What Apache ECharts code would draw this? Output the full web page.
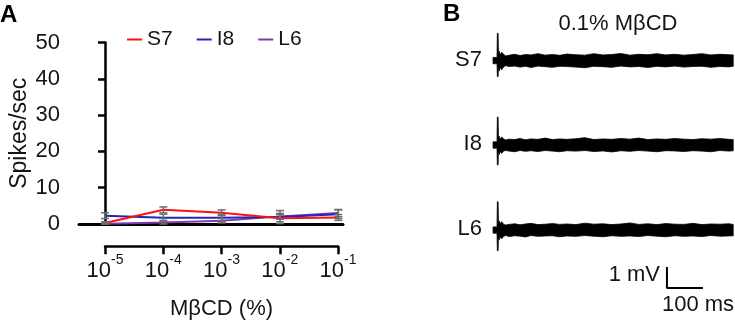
<!DOCTYPE html>
<html>
<head>
<meta charset="utf-8">
<script src="https://cdn.jsdelivr.net/npm/echarts@6/dist/echarts.min.js"></script>
<style>
  html, body { margin: 0; padding: 0; background: #fff; }
  #chart { width: 735px; height: 321px; }
</style>
</head>
<body>
<div id="chart"></div>
<script>
// Panel A: firing rate vs MβCD concentration (10^x %)
const concExponents = ['-5', '-4', '-3', '-2', '-1'];
const seriesNames = ['S7', 'I8', 'L6'];
const seriesColors = ['#ff1010', '#2424b8', '#7a3cb0'];
const s7Rate = [0.3, 3.9, 3.1, 1.6, 1.8];
const i8Rate = [2.3, 1.7, 1.7, 1.9, 2.7];
const l6Rate = [0.1, 0.4, 0.9, 2.1, 3.0];
const s7Err = [0.3, 0.8, 0.8, 1.0, 0.8];
const i8Err = [0.8, 1.0, 1.0, 1.8, 1.2];
const l6Err = [0.2, 0.6, 0.6, 0.8, 1.0];
const yTicks = [0, 10, 20, 30, 40, 50];

// Panel B: recording envelopes (ms, mV relative to each trace baseline)
const traceTime = [0, 10, 11, 12, 14, 15, 17, 20, 24, 29, 35, 45, 60, 75, 90, 105, 125, 145, 165, 185,
  205, 230, 255, 280, 305, 330, 355, 380, 405, 430, 455, 480, 505, 530, 555, 580, 605, 630, 655, 667];
const s7Upper = [0.15, 0.15, 0.1, 1.3, 1.3, 0.3, 0.45, 0.27, 0.4, 0.3, 0.22, 0.26, 0.3, 0.24, 0.29, 0.27, 0.33, 0.26, 0.29, 0.25,
  0.31, 0.28, 0.26, 0.33, 0.27, 0.29, 0.34, 0.26, 0.3, 0.28, 0.33, 0.27, 0.3, 0.26, 0.29, 0.33, 0.27, 0.3, 0.28, 0.27];
const s7Lower = [-0.15, -0.15, -0.1, -0.76, -0.76, -0.3, -0.5, -0.32, -0.44, -0.3, -0.24, -0.28, -0.26, -0.31, -0.27, -0.33, -0.26, -0.29, -0.32, -0.27,
  -0.28, -0.31, -0.34, -0.27, -0.29, -0.32, -0.26, -0.3, -0.28, -0.33, -0.27, -0.3, -0.26, -0.31, -0.28, -0.27, -0.32, -0.28, -0.3, -0.27];
const i8Upper = [0.15, 0.15, 0.1, 1.33, 1.33, 0.3, 0.42, 0.28, 0.38, 0.3, 0.24, 0.28, 0.26, 0.31, 0.25, 0.29, 0.27, 0.33, 0.26, 0.29,
  0.27, 0.3, 0.35, 0.26, 0.29, 0.27, 0.31, 0.28, 0.33, 0.26, 0.29, 0.27, 0.31, 0.28, 0.26, 0.3, 0.28, 0.31, 0.27, 0.26];
const i8Lower = [-0.15, -0.15, -0.1, -0.95, -0.95, -0.3, -0.45, -0.3, -0.4, -0.29, -0.26, -0.29, -0.32, -0.26, -0.3, -0.27, -0.31, -0.26, -0.29, -0.32,
  -0.27, -0.29, -0.26, -0.31, -0.28, -0.33, -0.27, -0.3, -0.26, -0.29, -0.32, -0.27, -0.28, -0.31, -0.27, -0.29, -0.32, -0.26, -0.29, -0.27];
const l6Upper = [0.15, 0.15, 0.1, 1.35, 1.35, 0.32, 0.44, 0.29, 0.4, 0.28, 0.24, 0.27, 0.3, 0.25, 0.29, 0.32, 0.26, 0.28, 0.31, 0.27,
  0.29, 0.26, 0.33, 0.28, 0.3, 0.26, 0.29, 0.34, 0.27, 0.3, 0.26, 0.31, 0.28, 0.27, 0.32, 0.26, 0.29, 0.28, 0.3, 0.27];
const l6Lower = [-0.15, -0.15, -0.1, -0.98, -0.98, -0.32, -0.46, -0.32, -0.42, -0.3, -0.26, -0.31, -0.27, -0.29, -0.33, -0.26, -0.3, -0.28, -0.27, -0.32,
  -0.28, -0.3, -0.26, -0.29, -0.32, -0.27, -0.3, -0.28, -0.31, -0.26, -0.29, -0.32, -0.27, -0.3, -0.28, -0.31, -0.26, -0.29, -0.28, -0.27];
const traceNames = ['S7', 'I8', 'L6'];
const traceBaselines = [12.4, 8.38, 4.33];
const scaleBarTime = [483, 483, 583];
const scaleBarVolt = [2.57, 1.57, 1.57];

const FONT = '"Liberation Sans", Arial, sans-serif';
const TEXT = '#141414';

const traces = [
  { name: traceNames[0], base: traceBaselines[0], upper: s7Upper, lower: s7Lower },
  { name: traceNames[1], base: traceBaselines[1], upper: i8Upper, lower: i8Lower },
  { name: traceNames[2], base: traceBaselines[2], upper: l6Upper, lower: l6Lower },
];

const rates = [s7Rate, i8Rate, l6Rate];
const errs = [s7Err, i8Err, l6Err];

function errorBarSeries(values, errors) {
  return {
    type: 'custom',
    xAxisIndex: 0,
    yAxisIndex: 0,
    z: 5,
    silent: true,
    data: values.map((v, i) => [i, Math.max(v - errors[i], 0), v + errors[i]]),
    renderItem: (params, api) => {
      const lo = api.coord([api.value(0), api.value(1)]);
      const hi = api.coord([api.value(0), api.value(2)]);
      const w = 4;
      const style = { stroke: '#6e6e6e', lineWidth: 1.5 };
      return {
        type: 'group',
        children: [
          { type: 'line', shape: { x1: hi[0], y1: hi[1], x2: lo[0], y2: lo[1] }, style },
          { type: 'line', shape: { x1: hi[0] - w, y1: hi[1], x2: hi[0] + w, y2: hi[1] }, style },
          { type: 'line', shape: { x1: lo[0] - w, y1: lo[1], x2: lo[0] + w, y2: lo[1] }, style },
        ],
      };
    },
  };
}

const chart = echarts.init(document.getElementById('chart'), null, { renderer: 'canvas' });

const option = {
  animation: false,
  backgroundColor: '#fff',
  textStyle: { fontFamily: FONT, color: TEXT },
  legend: {
    data: seriesNames,
    left: 122,
    top: 24,
    icon: 'rect',
    itemWidth: 15,
    itemHeight: 2,
    itemGap: 24,
    textStyle: { fontFamily: FONT, fontSize: 21, color: TEXT },
  },
  grid: [
    { left: 79, right: 392, top: 42.5, bottom: 97 },
    { left: 105, width: 233, top: 246, height: 1 },
    { left: 470, right: 0, top: 0, bottom: 0 },
  ],
  xAxis: [
    {
      type: 'value', gridIndex: 0, min: -0.446, max: 4.08,
      axisLine: { show: true, onZero: false, lineStyle: { color: '#000', width: 3 } },
      axisTick: { show: false }, axisLabel: { show: false }, splitLine: { show: false },
    },
    {
      type: 'value', gridIndex: 1, min: 0, max: 4, interval: 1, position: 'bottom',
      axisLine: { show: true, onZero: false, lineStyle: { color: '#000', width: 2.5 } },
      axisTick: { show: true, inside: false, length: 8, lineStyle: { color: '#000', width: 2.5 } },
      axisLabel: {
        margin: 7,
        formatter: (v) => `{b|10}{s|${concExponents[Math.round(v)]}}`,
        rich: {
          b: { fontFamily: FONT, fontSize: 22, color: TEXT },
          s: { fontFamily: FONT, fontSize: 14, color: TEXT, padding: [0, 0, 22, 0] },
        },
      },
      splitLine: { show: false },
      name: 'MβCD (%)',
      nameLocation: 'middle',
      nameGap: 52,
      nameTextStyle: { fontFamily: FONT, fontSize: 22, color: TEXT },
    },
    {
      type: 'value', gridIndex: 2, min: -64, max: 672, show: false,
    },
  ],
  yAxis: [
    {
      type: 'value', gridIndex: 0, min: 0, max: 50, interval: 10,
      axisLine: { show: true, lineStyle: { color: '#000', width: 2.5 } },
      axisTick: { show: true, inside: false, length: 7, lineStyle: { color: '#000', width: 2.5 } },
      axisLabel: {
        margin: 19, fontFamily: FONT, fontSize: 22, color: TEXT,
        formatter: (v) => (yTicks.includes(v) ? String(v) : ''),
      },
      splitLine: { show: false },
      name: 'Spikes/sec',
      nameLocation: 'middle',
      nameGap: 46,
      nameTextStyle: { fontFamily: FONT, fontSize: 23, color: TEXT },
    },
    { type: 'value', gridIndex: 1, min: 0, max: 1, show: false },
    { type: 'value', gridIndex: 2, min: 0, max: 321 / 21, show: false },
  ],
  series: [
    ...seriesNames.map((name, k) => ({
      name,
      type: 'line',
      xAxisIndex: 0,
      yAxisIndex: 0,
      color: seriesColors[k],
      symbol: 'none',
      z: 3 + (2 - k) * 0.1,
      lineStyle: { color: seriesColors[k], width: 2 },
      data: rates[k].map((v, i) => [i, v]),
    })),
    ...rates.map((r, k) => errorBarSeries(r, errs[k])),
    {
      type: 'custom',
      xAxisIndex: 2,
      yAxisIndex: 2,
      silent: true,
      data: traces.map((t, i) => [i]),
      renderItem: (params, api) => {
        const tr = traces[api.value(0)];
        const pts = [];
        traceTime.forEach((t, k) => pts.push(api.coord([t, tr.base + tr.upper[k]])));
        for (let k = traceTime.length - 1; k >= 0; k--) {
          pts.push(api.coord([traceTime[k], tr.base + tr.lower[k]]));
        }
        const lab = api.coord([-31, tr.base]);
        return {
          type: 'group',
          children: [
            { type: 'polygon', shape: { points: pts }, style: { fill: '#000', stroke: '#000', lineWidth: 0.8 } },
            {
              type: 'text',
              style: {
                text: tr.name, x: lab[0], y: lab[1] - 1, align: 'right', verticalAlign: 'middle',
                font: `22px ${FONT}`, fill: TEXT,
              },
            },
          ],
        };
      },
    },
    {
      type: 'line',
      xAxisIndex: 2,
      yAxisIndex: 2,
      symbol: 'none',
      silent: true,
      lineStyle: { color: '#000', width: 2 },
      data: scaleBarTime.map((t, i) => [t, scaleBarVolt[i]]),
    },
  ],
  graphic: [
    { type: 'text', left: 0, top: 3, style: { text: 'A', font: `bold 24px ${FONT}`, fill: '#000' } },
    { type: 'text', left: 443, top: 2, style: { text: 'B', font: `bold 24px ${FONT}`, fill: '#000' } },
    { type: 'text', x: 618, y: 24, style: { text: '0.1% MβCD', align: 'center', verticalAlign: 'middle', font: `22px ${FONT}`, fill: TEXT } },
    { type: 'text', x: 660, y: 275, style: { text: '1 mV', align: 'right', verticalAlign: 'middle', font: `22px ${FONT}`, fill: TEXT } },
    { type: 'text', x: 698, y: 305, style: { text: '100 ms', align: 'center', verticalAlign: 'middle', font: `22px ${FONT}`, fill: TEXT } },
  ],
};

chart.setOption(option);
window.addEventListener('resize', () => chart.resize());
</script>
</body>
</html>
